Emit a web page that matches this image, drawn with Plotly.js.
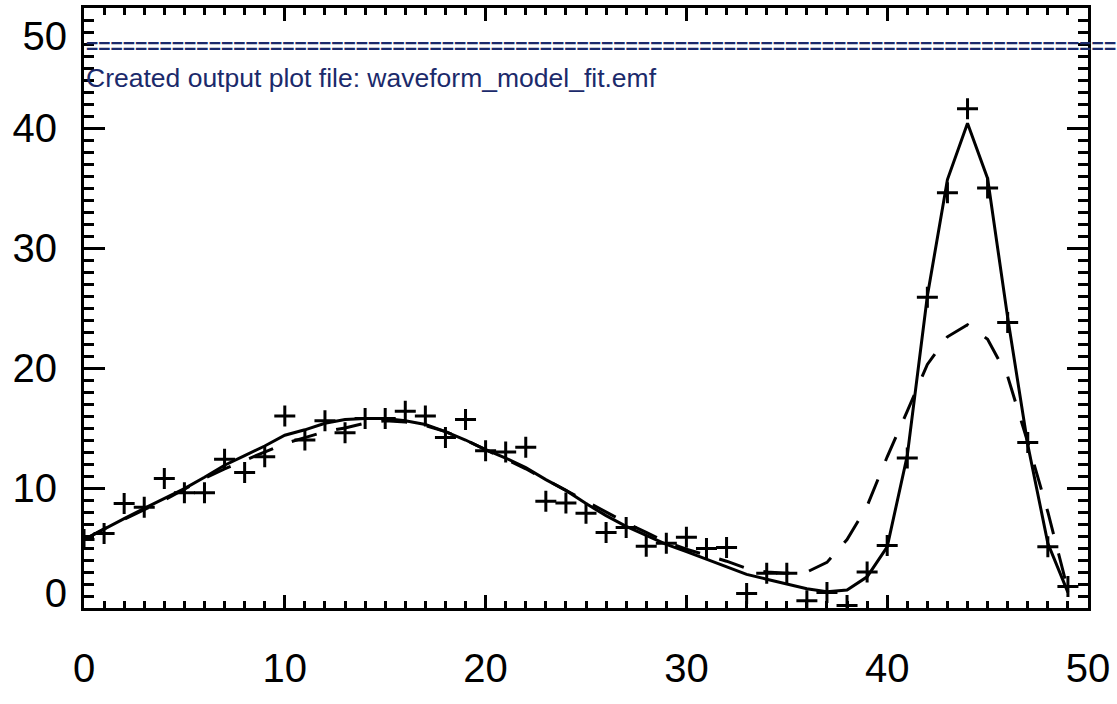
<!DOCTYPE html>
<html>
<head>
<meta charset="utf-8">
<script src="https://cdn.plot.ly/plotly-3.0.1.min.js"></script>
<style>html,body{margin:0;padding:0;background:#fff;overflow:hidden;}#chart{width:1117px;height:704px;}</style>
</head>
<body>
<div id="chart"></div>
<script>
// sample positions (x) of the waveform
const sampleX = [0,1,2,3,4,5,6,7,8,9,10,11,12,13,14,15,16,17,18,19,20,21,22,23,24,25,26,27,28,29,30,31,32,33,34,35,36,37,38,39,40,41,42,43,44,45,46,47,48,49];
// measured waveform (plus symbols)
const measured = [5.7,6.2,8.7,8.4,10.8,9.6,9.6,12.4,11.3,12.6,16.0,14.0,15.6,14.6,15.8,15.8,16.4,16.0,14.2,15.7,13.1,13.0,13.4,8.9,8.75,7.9,6.3,6.7,5.15,5.4,5.9,4.95,5.05,1.2,2.9,2.9,0.6,1.3,0.2,3.0,5.2,12.5,25.9,34.6,41.6,35.0,23.8,13.8,5.1,1.8];
// model fit (solid line)
const modelFit = [5.7,6.6,7.45,8.3,9.1,9.95,10.9,11.9,12.7,13.5,14.4,14.85,15.4,15.7,15.8,15.8,15.6,15.3,14.7,14.0,13.2,12.5,11.7,10.7,9.8,8.7,7.7,6.8,6.05,5.3,4.7,4.05,3.4,2.8,2.4,2.0,1.6,1.35,1.5,2.6,5.1,12.7,26.0,35.7,40.4,35.8,24.2,13.6,5.4,1.3];
// alternative model (dashed line)
const altModel = [5.7,6.6,7.4,8.2,9.0,9.9,10.8,11.6,12.3,13.0,13.7,14.2,14.7,15.0,15.4,15.6,15.5,15.2,14.7,14.0,13.2,12.4,11.6,10.7,9.8,8.9,8.0,7.1,6.3,5.5,4.9,4.4,3.9,3.3,3.0,2.9,3.0,3.8,5.7,8.5,12.6,16.4,20.3,22.6,23.6,22.4,19.3,13.8,8.0,1.5];
// tick labels
const xTickVals = [0,10,20,30,40,50];
const xTickText = ['0','10','20','30','40','50'];
const yTickVals = [10,20,30,40];
const yTickText = ['10','20','30','40'];
const yBottomVal = [0], yBottomText = ['0'];
const yTopVal = [50], yTopText = ['50'];
// console text
const bannerText = '====================================================================================';
const consoleText = 'Created output plot file: waveform_model_fit.emf';

const tickFont = {family: 'Liberation Sans, Arial, sans-serif', size: 40, color: '#000'};
const navy = '#1b2a6b';

const traces = [
  {x: sampleX, y: altModel, type: 'scatter', mode: 'lines',
   line: {color: '#000', width: 3, dash: '26px,20px'}, hoverinfo: 'skip'},
  {x: sampleX, y: modelFit, type: 'scatter', mode: 'lines',
   line: {color: '#000', width: 3}, hoverinfo: 'skip'},
  {x: sampleX, y: measured, type: 'scatter', mode: 'markers',
   marker: {symbol: 'cross-thin', size: 15, color: '#000', line: {color: '#000', width: 3}}, hoverinfo: 'skip'},
  {x: [], y: [], yaxis: 'y2', type: 'scatter', showlegend: false},
  {x: [], y: [], yaxis: 'y3', type: 'scatter', showlegend: false}
];

const baseY = {
  range: [0, 50], showgrid: false, zeroline: false, fixedrange: true
};

const layout = {
  width: 1117, height: 704,
  margin: {l: 84, r: 29, t: 8, b: 96, pad: 0},
  paper_bgcolor: '#fff', plot_bgcolor: '#fff',
  showlegend: false,
  xaxis: {
    range: [0, 50], showgrid: false, zeroline: false,
    showline: true, linecolor: '#000', linewidth: 3, mirror: 'ticks',
    ticks: 'inside', ticklen: 13, tickwidth: 3, tickcolor: '#000',
    tickvals: xTickVals, ticktext: xTickText, tickfont: tickFont,
    ticklabelstandoff: 23,
    minor: {dtick: 1, ticks: 'inside', ticklen: 7, tickwidth: 3, tickcolor: '#000', showgrid: false}
  },
  yaxis: Object.assign({}, baseY, {
    showline: true, linecolor: '#000', linewidth: 3, mirror: 'ticks',
    ticks: 'inside', ticklen: 21, tickwidth: 3, tickcolor: '#000',
    tickvals: yTickVals, ticktext: yTickText, tickfont: tickFont,
    ticklabelstandoff: 16,
    minor: {dtick: 1, ticks: 'inside', ticklen: 10, tickwidth: 3, tickcolor: '#000', showgrid: false}
  }),
  yaxis2: Object.assign({}, baseY, {
    overlaying: 'y', side: 'left', showline: false, ticks: '',
    tickvals: yBottomVal, ticktext: yBottomText, tickfont: tickFont,
    ticklabelstandoff: 16, ticklabelshift: -15
  }),
  yaxis3: Object.assign({}, baseY, {
    overlaying: 'y', side: 'left', showline: false, ticks: '',
    tickvals: yTopVal, ticktext: yTopText, tickfont: tickFont,
    ticklabelstandoff: 16, ticklabelshift: 28
  }),
  annotations: [
    {text: '<b>' + bannerText + '</b>', xref: 'paper', yref: 'paper', x: 0.0, y: 0.9367,
     xanchor: 'left', yanchor: 'middle', showarrow: false, align: 'left',
     font: {family: 'Liberation Sans, Arial, sans-serif', size: 21, color: navy}},
    {text: consoleText, xref: 'paper', yref: 'paper', x: 0.0, y: 0.884,
     xanchor: 'left', yanchor: 'middle', showarrow: false, align: 'left',
     font: {family: 'Liberation Sans, Arial, sans-serif', size: 26.5, color: navy}}
  ]
};

Plotly.newPlot('chart', traces, layout, {staticPlot: true, displayModeBar: false});
</script>
</body>
</html>
